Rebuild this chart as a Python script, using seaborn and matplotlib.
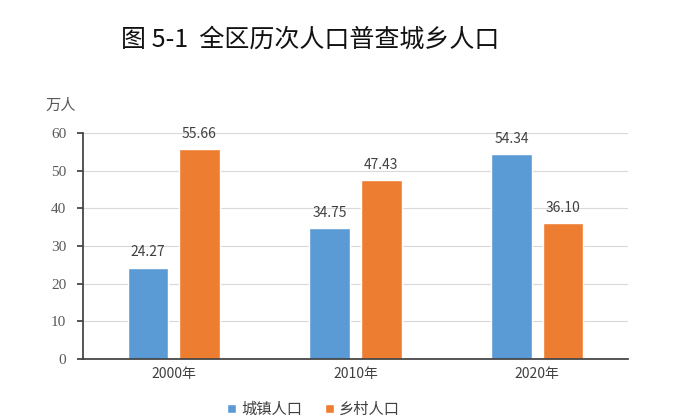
import matplotlib
matplotlib.use("Agg")
import matplotlib.pyplot as plt
import seaborn as sns
import pandas as pd

years = ["2000年", "2010年", "2020年"]
series = ["城镇人口", "乡村人口"]
urban = [24.27, 34.75, 54.34]
rural = [55.66, 47.43, 36.10]
yticks = [0, 10, 20, 30, 40, 50, 60]

sns.set_theme(style="white")
plt.rcParams['font.family'] = ['Noto Sans CJK SC', 'DejaVu Sans']

df = pd.DataFrame({
    "year": years * 2,
    "series": [series[0]] * 3 + [series[1]] * 3,
    "value": urban + rural,
})

fig = plt.figure(figsize=(6.74, 4.2), dpi=100)
ax = fig.add_axes([0.123, 0.145, 0.809, 0.538])
sns.barplot(data=df, x="year", y="value", hue="series", order=years,
            hue_order=series, palette=["#5B9BD5", "#ED7D31"],
            width=0.567, gap=0.21, ax=ax, legend=True, saturation=1)

for cont in ax.containers:
    ax.bar_label(cont, fmt="%.2f", padding=6, fontsize=10, color="#404040")

ax.set_ylim(0, 60)
ax.set_yticks(yticks)
ax.set_yticklabels([str(t) for t in yticks], fontsize=11, color="#595959",
                   family=["Liberation Serif", "DejaVu Serif"])
ax.tick_params(axis="x", labelsize=10, labelcolor="#404040", length=0, pad=6)
ax.tick_params(axis="y", length=4, direction="out", color="#404040", left=True, pad=8)
ax.set_xlabel("")
ax.set_ylabel("")
ax.yaxis.grid(True, color="#D9D9D9", linewidth=0.8)
ax.set_axisbelow(True)
for s in ["top", "right"]:
    ax.spines[s].set_visible(False)
ax.spines["left"].set_color("#404040")
ax.spines["bottom"].set_color("#404040")

ax.legend(loc="center", bbox_to_anchor=(0.465, 0.025), bbox_transform=fig.transFigure,
          ncol=2, frameon=False, fontsize=11, handlelength=0.6, handleheight=0.6,
          columnspacing=1.5, handletextpad=0.3, labelcolor="#404040")

fig.text(0.067, 0.75, "万人", fontsize=11, color="#595959", ha="left", va="center")
fig.text(0.46, 0.905, "图 5-1  全区历次人口普查城乡人口", fontsize=18, color="#111111",
         ha="center", va="center")

fig.savefig("out.png", dpi=100, facecolor="white")
